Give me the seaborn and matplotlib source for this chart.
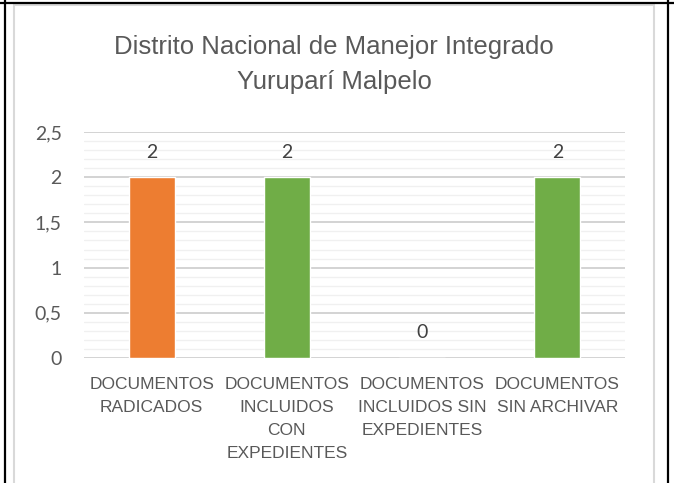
import matplotlib
matplotlib.use("Agg")
import matplotlib.pyplot as plt
from matplotlib import font_manager
from matplotlib.patches import Rectangle
from matplotlib.lines import Line2D
import seaborn as sns
import pandas as pd
import numpy as np

title_lines = ["Distrito Nacional de Manejor Integrado", "Yuruparí Malpelo"]
categories = [
    "DOCUMENTOS\nRADICADOS",
    "DOCUMENTOS\nINCLUIDOS\nCON\nEXPEDIENTES",
    "DOCUMENTOS\nINCLUIDOS SIN\nEXPEDIENTES",
    "DOCUMENTOS\nSIN ARCHIVAR",
]
values = [2, 2, 0, 2]
bar_colors = ["#ED7D31", "#70AD47", "#70AD47", "#70AD47"]
y_ticks = [0, 0.5, 1, 1.5, 2, 2.5]
y_tick_labels = ["0", "0,5", "1", "1,5", "2", "2,5"]

available = {f.name for f in font_manager.fontManager.ttflist}
narrow = "Liberation Sans Narrow" if "Liberation Sans Narrow" in available else "Liberation Sans"
num_font = "Lato" if "Lato" in available else "DejaVu Sans"

sns.set_theme(style="white")
plt.rcParams["font.family"] = [narrow, "DejaVu Sans"]

df = pd.DataFrame({"cat": categories, "val": values})

W, H = 674, 483
fig = plt.figure(figsize=(W / 100, H / 100), dpi=100)
ax = fig.add_axes([84 / W, 1 - 358 / H, (625 - 84) / W, (358 - 132) / H])

sns.barplot(data=df, x="cat", y="val", hue="cat", palette=bar_colors,
            legend=False, width=0.34, ax=ax, saturation=1)

ax.set_ylim(0, 2.5)
ax.set_xlim(-0.5, 3.5)
ax.set_yticks(y_ticks)
ax.set_yticklabels(y_tick_labels, fontfamily=num_font, fontsize=14, color="#595959")
ax.set_yticks(np.arange(0, 2.51, 0.1), minor=True)
ax.grid(axis="y", which="major", color="#D0D0D0", linewidth=1.3)
ax.grid(axis="y", which="minor", color="#F0F0F0", linewidth=1.0)
ax.set_axisbelow(True)
ax.tick_params(axis="y", which="both", length=0, pad=16)
ax.tick_params(axis="x", length=0, pad=14)
ax.set_xticks(range(len(categories)))
ax.set_xticklabels(categories, fontsize=12.5, color="#595959", linespacing=1.65)
ax.set_xlabel("")
ax.set_ylabel("")
for s in ax.spines.values():
    s.set_visible(False)

for i, v in enumerate(values):
    ax.annotate(str(v), (i, v), xytext=(0, 18), textcoords="offset points",
                ha="center", va="center", fontfamily=num_font, fontsize=14, color="#404040")

fig.text(334 / W, 1 - 47 / H, title_lines[0],
         ha="center", va="center", fontsize=18.5, color="#595959")
fig.text(334 / W, 1 - 82 / H, title_lines[1],
         ha="center", va="center", fontsize=18.5, color="#595959")

# chart frame and outer page borders
fig.add_artist(Rectangle((14 / W, -0.1), (654 - 14) / W, 1 - 5 / H + 0.1,
                         transform=fig.transFigure, fill=False,
                         edgecolor="#D9D9D9", linewidth=1.5))
fig.add_artist(Line2D([0, 1], [1 - 2.5 / H] * 2, transform=fig.transFigure,
                      color="black", linewidth=1.6))
fig.add_artist(Line2D([5 / W] * 2, [0, 1], transform=fig.transFigure,
                      color="black", linewidth=1.6))
fig.add_artist(Line2D([667.5 / W] * 2, [0, 1], transform=fig.transFigure,
                      color="black", linewidth=1.6))

fig.savefig("out.png", dpi=100)
